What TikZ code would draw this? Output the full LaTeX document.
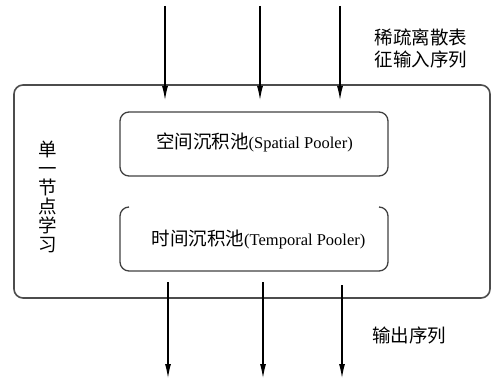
\documentclass[tikz,border=0pt]{standalone}
\usepackage{fontspec}
\setmainfont{Liberation Serif}
\newfontfamily\cjk{Noto Sans CJK SC}
\usetikzlibrary{arrows.meta}
\begin{document}
\begin{tikzpicture}[x=1pt,y=-1pt,
  outerbox/.style={draw=black!70,line width=1.6pt,rounded corners=9pt},
  innerbox/.style={draw=black!75,line width=1.3pt,rounded corners=9pt},
  flow/.style={line width=1.1pt,-{Latex[length=14pt,width=6pt]}},
  lbl/.style={font=\cjk\fontsize{18.5}{22}\selectfont,inner sep=0pt,align=center},
  mixed/.style={font=\fontsize{16.5}{20}\selectfont,inner sep=0pt}]
\useasboundingbox (0,0) rectangle (492,379);
% outer box
\node (outer) at (252,191.5) [outerbox,minimum width=476pt,minimum height=213pt,inner sep=0pt] {};
% spatial pooler box
\node (sp) at (254,144) [innerbox,minimum width=268pt,minimum height=64pt,inner sep=0pt] {};
\node[mixed] (sptext) at (254.5,142) {{\cjk\fontsize{18.5}{20}\selectfont 空间沉积池}(Spatial Pooler)};
% temporal pooler box (top edge open)
\draw[draw=black!75,line width=1.3pt]
  (129,207) arc[start angle=90,end angle=180,radius=9pt]
  -- (120,262) arc[start angle=180,end angle=270,radius=9pt]
  -- (379,271) arc[start angle=270,end angle=360,radius=9pt]
  -- (388,216) arc[start angle=0,end angle=90,radius=9pt];
\node[mixed] (tptext) at (258.5,240) {{\cjk\fontsize{18.5}{20}\selectfont 时间沉积池}(Temporal Pooler)};
% labels
\node[lbl] (inlbl) at (421,48) {稀疏离散表\\征输入序列};
\node[lbl,font=\cjk\fontsize{18.5}{19}\selectfont] (node1) at (48,197) {单\\一\\节\\点\\学\\习};
\node[lbl] (outlbl) at (409,335) {输出序列};
% input arrows
\coordinate (i1s) at (165,6);  \coordinate (i1e) at (165,100);
\coordinate (i2s) at (260,6);  \coordinate (i2e) at (260,100);
\coordinate (i3s) at (340,6);  \coordinate (i3e) at (340,100);
\draw[flow] (i1s) -- (i1e);
\draw[flow] (i2s) -- (i2e);
\draw[flow] (i3s) -- (i3e);
% output arrows
\coordinate (o1s) at (168,282); \coordinate (o1e) at (168,378);
\coordinate (o2s) at (263,282); \coordinate (o2e) at (263,378);
\coordinate (o3s) at (342,285); \coordinate (o3e) at (342,378);
\draw[flow] (o1s) -- (o1e);
\draw[flow] (o2s) -- (o2e);
\draw[flow] (o3s) -- (o3e);
\end{tikzpicture}
\end{document}
